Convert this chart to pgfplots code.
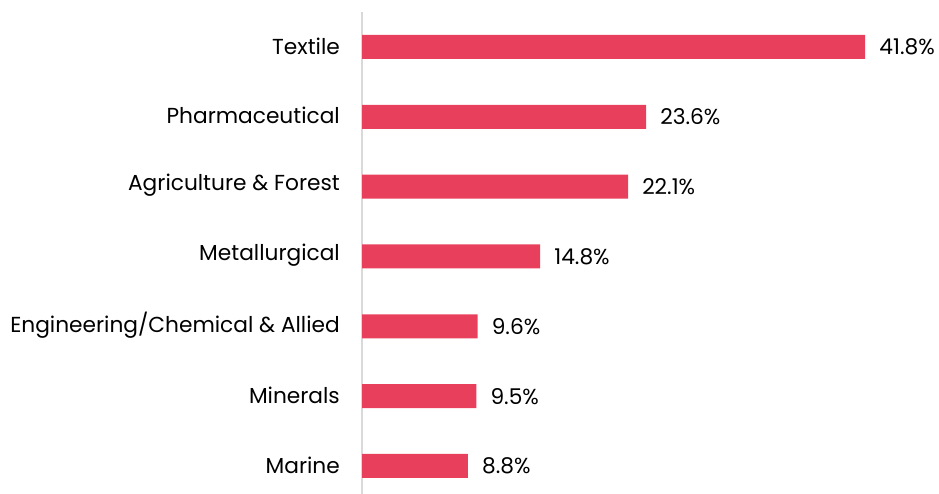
\documentclass[border=0pt]{standalone}
\usepackage{pgfplots}
\pgfplotsset{compat=1.18}
\usepackage{fontspec}
\setmainfont{Poppins}
\definecolor{barred}{RGB}{232,64,92}
\definecolor{axgray}{RGB}{217,217,217}
\begin{document}
\begin{tikzpicture}
\begin{axis}[
  at={(362pt,0pt)}, anchor=south west,
  scale only axis,
  width=564pt, height=482pt,
  xmin=0, xmax=46.85,
  ymin=-0.401, ymax=6.5,
  hide x axis,
  axis y line*=left,
  y axis line style={draw=axgray, line width=1.3pt},
  ytick={0,1,2,3,4,5,6},
  yticklabels={Marine,Minerals,{Engineering/Chemical \& Allied},Metallurgical,{Agriculture \& Forest},Pharmaceutical,Textile},
  major tick length=0pt,
  ytick style={draw=none},
  yticklabel style={font=\fontsize{21.7}{24}\selectfont, inner sep=0pt, anchor=east, xshift=-22pt, yshift=1pt},
  xbar, bar width=24pt,
  point meta=x,
  nodes near coords={\pgfmathprintnumber[fixed,precision=1,fixed zerofill,assume math mode=true]{\pgfplotspointmeta}\%},
  every node near coord/.append style={font=\fontsize{21.7}{24}\selectfont, anchor=west, inner sep=0pt, xshift=14pt, text=black},
  clip=false,
]
\addplot[fill=barred, draw=none] coordinates {
  (8.8,0) (9.5,1) (9.6,2) (14.8,3) (22.1,4) (23.6,5) (41.8,6)
};
\end{axis}
\pgfresetboundingbox
\path (0,0) rectangle (939pt,494pt);
\end{tikzpicture}
\end{document}
